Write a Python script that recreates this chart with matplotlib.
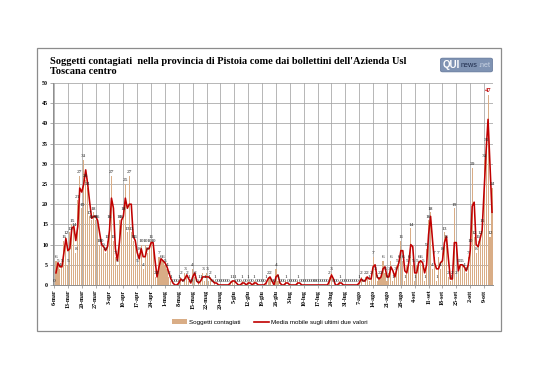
import matplotlib
matplotlib.use("Agg")
import matplotlib.pyplot as plt
from matplotlib.patches import Rectangle, FancyBboxPatch
from matplotlib.lines import Line2D
import numpy as np

# ---------------- data ----------------
start_date = "2020-03-06"
cases = [
    0, 6, 5, 4, 5, 11, 12, 5, 13, 15,
    14, 8, 21, 27, 19, 31, 26, 24, 17, 16,
    18, 16, 16, 10, 10, 9, 8, 11, 16, 27,
    11, 7, 5, 16, 16, 18, 25, 13, 27, 13,
    11, 11, 5, 8, 10, 4, 10, 8, 10, 11,
    10, 2, 2, 7, 6, 6, 5, 4, 2, 1,
    0, 0, 0, 1, 2, 0, 3, 2, 1, 0,
    4, 2, 0, 1, 1, 3, 1, 3, 1, 2,
    0, 1, 0, 0, 0, 0, 0, 0, 0, 1,
    1, 1, 0, 0, 0, 1, 0, 0, 1, 0,
    0, 1, 0, 0, 0, 0, 0, 1, 2, 2,
    0, 0, 4, 1, 0, 0, 0, 1, 0, 0,
    0, 0, 0, 1, 0, 0, 0, 0, 0, 0,
    0, 0, 0, 0, 0, 0, 0, 0, 0, 2,
    3, 0, 0, 0, 1, 0, 0, 0, 0, 0,
    0, 0, 0, 0, 1, 2, 0, 2, 2, 1,
    2, 7, 3, 1, 2, 2, 6, 3, 1, 3,
    6, 1, 3, 5, 6, 11, 6, 1, 5, 6,
    14, 5, 1, 5, 6, 6, 5, 1, 9, 16,
    18, 4, 7, 1, 7, 4, 8, 13, 11, 2,
    1, 2, 19, 2, 5, 5, 5, 4, 3, 7,
    10, 29, 12, 8, 11, 12, 15, 31, 35, 47,
    12, 24,
]
tick_labels = ["6-mar", "13-mar", "20-mar", "27-mar", "3-apr", "10-apr", "17-apr",
               "24-apr", "1-mag", "8-mag", "15-mag", "22-mag", "29-mag", "5-giu",
               "12-giu", "19-giu", "26-giu", "3-lug", "10-lug", "17-lug", "24-lug",
               "31-lug", "7-ago", "14-ago", "21-ago", "28-ago", "4-set", "11-set",
               "18-set", "25-set", "2-ott", "9-ott"]
series_bar = "Soggetti contagiati"
series_line = "Media mobile sugli ultimi due valori"
title = ("Soggetti contagiati  nella provincia di Pistoia come dai bollettini dell'Azienda Usl\n"
         "Toscana centro")

# ---------------- figure ----------------
W, H = 538, 380
fig = plt.figure(figsize=(W / 100, H / 100), dpi=100)
fig.patch.set_facecolor("white")

# outer frame
frame = Rectangle((37 / W, 1 - 331 / H), (501 - 37) / W, (331 - 48) / H,
                  transform=fig.transFigure, fill=False, edgecolor="#8c8c8c", lw=0.9)
fig.add_artist(frame)

ax = fig.add_axes([53 / W, 1 - 285 / H, (493 - 53) / W, (285 - 83) / H])

x = np.arange(len(cases))
vals = np.array(cases, dtype=float)
mov = np.full(len(cases), np.nan)
mov[1:] = (vals[1:] + vals[:-1]) / 2

bar_color = "#d9ad86"
line_color = "#c00000"

ax.bar(x, vals, width=0.55, color=bar_color, edgecolor="none", zorder=2)
ax.plot(x, mov, color=line_color, lw=1.15, zorder=4)

imax = int(np.argmax(vals))
for i, v in enumerate(cases):
    if i == imax:
        ax.text(i, v + 0.6, str(v), ha="center", va="bottom", fontsize=4.6,
                color=line_color, fontweight="bold", family="Liberation Serif", zorder=5)
    else:
        ax.text(i, v + 0.4, str(v), ha="center", va="bottom", fontsize=3.9,
                color="#222222", family="Liberation Serif", zorder=5)

ax.set_xlim(-0.5, len(cases) - 0.5)
ax.set_ylim(0, 50)
ax.set_yticks(np.arange(0, 51, 5))
ticks = np.arange(0, len(cases), 7)[:len(tick_labels)]
ax.set_xticks(ticks)
ax.set_xticklabels(tick_labels, rotation=90, fontsize=4.3, fontweight="bold",
                   family="Liberation Serif")
for lab in ax.get_yticklabels():
    lab.set_fontsize(4.3)
    lab.set_fontweight("bold")
    lab.set_family("Liberation Serif")
ax.tick_params(axis="both", length=2, width=0.5, color="#8c8c8c", pad=1.5)
ax.grid(True, color="#a3a3a3", lw=0.55, zorder=0)
ax.set_axisbelow(True)
for s in ["top", "right"]:
    ax.spines[s].set_visible(False)
for s in ["left", "bottom"]:
    ax.spines[s].set_color("#8c8c8c")
    ax.spines[s].set_linewidth(0.7)

# title
fig.text(50 / W, 1 - 57.5 / H, title, ha="left", va="top", fontsize=7.5,
         fontweight="bold", family="Liberation Serif", linespacing=1.1)

# logo
logo = FancyBboxPatch((441 / W, 1 - 71.5 / H), 51 / W, 13 / H,
                      boxstyle="round,pad=0.001,rounding_size=0.004",
                      transform=fig.transFigure, facecolor="#7f93b3",
                      edgecolor="#5f7396", lw=0.5)
fig.add_artist(logo)
fig.text(443 / W, 1 - 65 / H, "QUI", ha="left", va="center", fontsize=7,
         fontweight="bold", color="white", family="Liberation Sans")
fig.text(461 / W, 1 - 65.5 / H, "news", ha="left", va="center", fontsize=5.2,
         color="#1c2a4a", family="Liberation Sans")
fig.text(478 / W, 1 - 65.5 / H, ".net", ha="left", va="center", fontsize=5.2,
         color="#c9d3e3", family="Liberation Sans")

# legend
handles = [Rectangle((0, 0), 1, 1, facecolor=bar_color, edgecolor="none"),
           Line2D([0], [0], color=line_color, lw=1.2)]
fig.legend(handles, [series_bar, series_line], loc="center",
           bbox_to_anchor=(270 / W, 1 - 322 / H), ncol=2, frameon=False,
           prop={"family": "Liberation Sans", "size": 4.5},
           handlelength=2.3, handleheight=0.8, columnspacing=2.2, handletextpad=0.4)

fig.savefig("out.png", dpi=100, facecolor="white")
